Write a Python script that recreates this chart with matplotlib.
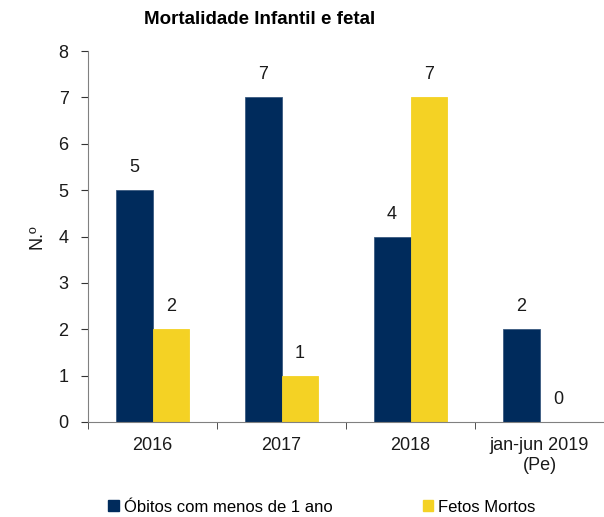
import numpy as np
import matplotlib.pyplot as plt
from matplotlib.patches import Patch

plt.rcParams["font.family"] = ["Liberation Sans", "DejaVu Sans"]

categories = ["2016", "2017", "2018", "jan-jun 2019\n(Pe)"]
obitos = [5, 7, 4, 2]
fetos = [2, 1, 7, 0]

navy = "#002B5C"
yellow = "#F4D224"
gray = "#808080"
txt = "#1a1a1a"

fig = plt.figure(figsize=(6.04, 5.17), dpi=100)
ax = fig.add_axes([88 / 604, 95 / 517, 516 / 604, 371 / 517])

x = np.arange(len(categories))
w = 0.285
ax.bar(x - w / 2, obitos, w, color=navy, edgecolor="#3a5a80", linewidth=0.6)
ax.bar(x + w / 2, fetos, w, color=yellow, edgecolor=yellow, linewidth=0.6)

for xi, v in zip(x - w / 2, obitos):
    ax.text(xi, v + 0.3, str(v), ha="center", va="bottom", fontsize=13, color=txt)
for xi, v in zip(x + w / 2, fetos):
    ax.text(xi, v + 0.3, str(v), ha="center", va="bottom", fontsize=13, color=txt)

ax.set_ylim(0, 8)
ax.set_xlim(-0.5, 3.5 - 4 / 130)
ax.set_yticks(range(0, 9))
ax.set_xticks(x)
ax.set_xticklabels(categories)
ax.set_xticks(np.arange(-0.5, 4, 1), minor=True)
ax.tick_params(axis="x", which="major", length=0, pad=11, labelsize=13, labelcolor=txt)
ax.tick_params(axis="x", which="minor", length=5, color="#333333", direction="out")
ax.tick_params(axis="y", length=5, color="#333333", labelsize=13, pad=9, labelcolor=txt)

for s in ["top", "right"]:
    ax.spines[s].set_visible(False)
for s in ["left", "bottom"]:
    ax.spines[s].set_color(gray)

ax.set_ylabel("N.º", fontsize=13, labelpad=9, color=txt)
fig.text(260 / 604, 1 - 20 / 517, "Mortalidade Infantil e fetal", fontsize=13.5,
         fontweight="bold", ha="center", va="center")

# legend sits at the very bottom (cut off in the original, kept visible here)
handles = [Patch(color=navy), Patch(color=yellow)]
fig.legend(handles, ["Óbitos com menos de 1 ano", "Fetos Mortos"],
           loc="center left", bbox_to_anchor=(108 / 604, 10 / 517), ncol=2,
           frameon=False, fontsize=12, handlelength=0.65, handleheight=0.65,
           handletextpad=0.3, columnspacing=5.4, borderpad=0, borderaxespad=0)

fig.savefig("out.png", dpi=100)
